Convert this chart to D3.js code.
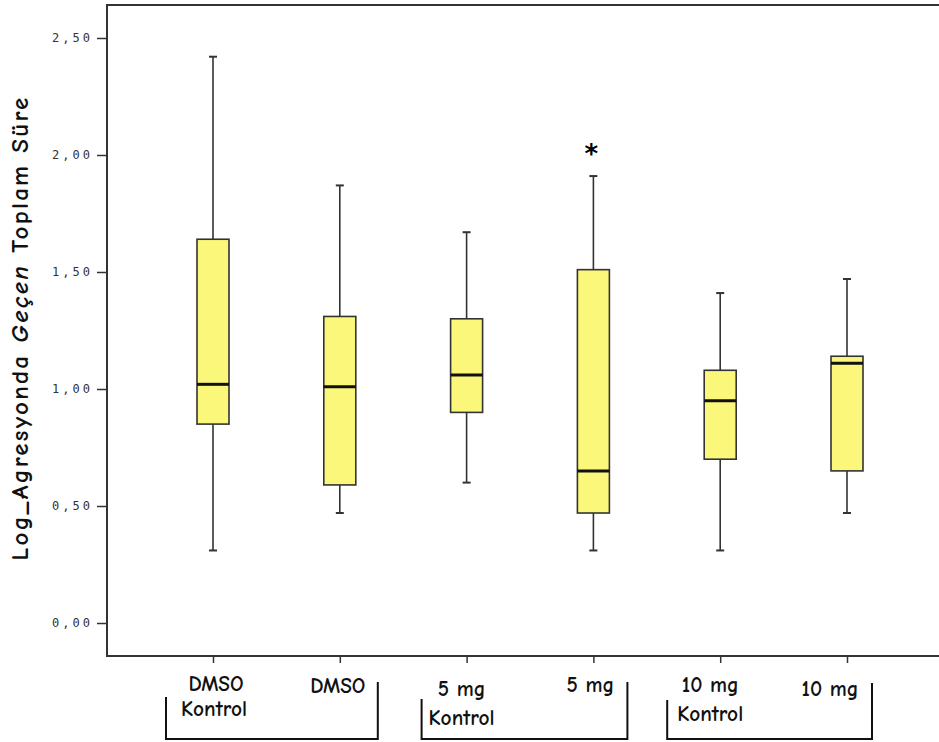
<!DOCTYPE html>
<html><head><meta charset="utf-8">
<script src="https://cdn.jsdelivr.net/npm/d3@7"></script>
<style>
body{margin:0;background:#fff;}
svg{display:block;}
</style></head>
<body><svg id="chart" width="939" height="742"></svg>
<script>
// ---- data ----
const categories = ["DMSO Kontrol","DMSO","5 mg Kontrol","5 mg","10 mg Kontrol","10 mg"];
const labelLines = [["DMSO","Kontrol"],["DMSO"],["5 mg","Kontrol"],["5 mg"],["10 mg","Kontrol"],["10 mg"]];
const whiskerLow  = [0.31, 0.47, 0.60, 0.31, 0.31, 0.47];
const q1          = [0.85, 0.59, 0.90, 0.47, 0.70, 0.65];
const median      = [1.02, 1.01, 1.06, 0.65, 0.95, 1.11];
const q3          = [1.64, 1.31, 1.30, 1.51, 1.08, 1.14];
const whiskerHigh = [2.42, 1.87, 1.67, 1.91, 1.41, 1.47];
const outliers    = [[], [], [], [2.02], [], []];
const yTicks = [0, 0.5, 1.0, 1.5, 2.0, 2.5];
const yTitle = ["Log_Agresyonda ", "Geçen", " Toplam Süre"];
const groups = [[0,1],[2,3],[4,5]];

// ---- layout ----
const pLeft = 107, pTop = 5, pRight = 945, pBottom = 656;
const svg = d3.select("#chart");
const y = d3.scaleLinear().domain([-0.141, 2.641]).range([pBottom, pTop]);
const x = d3.scalePoint().domain(categories).range([213, 847]);
const boxW = 32, capW = 8;
const fill = "#fbf77a", stroke = "#333";
const comic = "'Comic Sans MS','Comic Neue','Open Sans','DejaVu Sans',sans-serif";

// frame
svg.append("rect").attr("x", pLeft).attr("y", pTop).attr("width", pRight - pLeft).attr("height", pBottom - pTop)
  .attr("fill", "none").attr("stroke", "#333").attr("stroke-width", 2);

// y axis
const yAxis = d3.axisLeft(y).tickValues(yTicks).tickSize(10).tickPadding(4)
  .tickFormat(d => d3.format(".2f")(d).replace(".", ","));
const yg = svg.append("g").attr("transform", `translate(${pLeft},0)`).call(yAxis);
yg.select(".domain").remove();
yg.selectAll(".tick line").attr("stroke", "#333").attr("stroke-width", 1.5);
yg.selectAll(".tick text").attr("font-family", "'DejaVu Sans Mono',monospace").attr("font-size", 12)
  .attr("letter-spacing", "3px").attr("fill", "#333");

// x axis
const xAxis = d3.axisBottom(x).tickSize(7).tickFormat("");
const xg = svg.append("g").attr("transform", `translate(0,${pBottom})`).call(xAxis);
xg.select(".domain").remove();
xg.selectAll(".tick line").attr("stroke", "#333").attr("stroke-width", 1.5);

// boxes
const data = categories.map((c, i) => ({c, i, lo: whiskerLow[i], q1: q1[i], med: median[i], q3: q3[i], hi: whiskerHigh[i], out: outliers[i]}));
const g = svg.append("g").selectAll("g").data(data).join("g");
g.append("line").attr("x1", d => x(d.c)).attr("x2", d => x(d.c))
  .attr("y1", d => y(d.hi)).attr("y2", d => y(d.q3)).attr("stroke", stroke).attr("stroke-width", 1.6);
g.append("line").attr("x1", d => x(d.c)).attr("x2", d => x(d.c))
  .attr("y1", d => y(d.q1)).attr("y2", d => y(d.lo)).attr("stroke", stroke).attr("stroke-width", 1.6);
g.append("line").attr("x1", d => x(d.c) - capW/2).attr("x2", d => x(d.c) + capW/2)
  .attr("y1", d => y(d.hi)).attr("y2", d => y(d.hi)).attr("stroke", stroke).attr("stroke-width", 2);
g.append("line").attr("x1", d => x(d.c) - capW/2).attr("x2", d => x(d.c) + capW/2)
  .attr("y1", d => y(d.lo)).attr("y2", d => y(d.lo)).attr("stroke", stroke).attr("stroke-width", 2);
g.append("rect").attr("x", d => x(d.c) - boxW/2).attr("width", boxW)
  .attr("y", d => y(d.q3)).attr("height", d => y(d.q1) - y(d.q3))
  .attr("fill", fill).attr("stroke", stroke).attr("stroke-width", 1.6);
g.append("line").attr("x1", d => x(d.c) - boxW/2).attr("x2", d => x(d.c) + boxW/2)
  .attr("y1", d => y(d.med)).attr("y2", d => y(d.med)).attr("stroke", "#111").attr("stroke-width", 3);
g.selectAll("text.out").data(d => d.out.map(v => ({c: d.c, v}))).join("text").attr("class", "out")
  .attr("x", d => x(d.c) - 2).attr("y", d => y(d.v) + 13).attr("text-anchor", "middle")
  .attr("font-family", "'DejaVu Sans',sans-serif").attr("font-weight", "bold").attr("font-size", 26).text("*");

// category labels (size fitted so "Kontrol" is ~65px wide, like the reference)
const probe = svg.append("text").attr("font-family", comic).attr("font-weight", "bold").attr("font-size", 20).text("Kontrol");
const labelSize = Math.min(26, 20 * 66 / probe.node().getComputedTextLength());
probe.remove();
const labelOffsets = [[3,1],[-2],[-5,-5],[-3],[-10,-10],[-17]];
const labelBase = [[691,716],[693],[696,725],[692],[692,721],[696]];
data.forEach((d, i) => {
  labelLines[i].forEach((t, k) => {
    svg.append("text").attr("x", x(d.c) + labelOffsets[i][k]).attr("y", labelBase[i][k])
      .attr("text-anchor", "middle").attr("font-family", comic).attr("font-weight", "bold")
      .attr("font-size", labelSize).attr("fill", "#111").text(t);
  });
});

// group brackets
const bracketTopL = [697, 699, 700], bracketTopR = [682, 682, 683];
const bracketOffL = [-47, -45, -53], bracketOffR = [38, 34, 25];
groups.forEach((gr, j) => {
  const xl = x(categories[gr[0]]) + bracketOffL[j], xr = x(categories[gr[1]]) + bracketOffR[j];
  svg.append("path").attr("d", `M${xl},${bracketTopL[j]}V739H${xr}V${bracketTopR[j]}`)
    .attr("fill", "none").attr("stroke", "#111").attr("stroke-width", 2);
});

// y title (letter-spaced to ~465px length)
const tt = svg.append("text").attr("transform", "translate(28,328) rotate(-90)")
  .attr("text-anchor", "middle").attr("font-family", comic).attr("font-weight", "bold")
  .attr("font-size", 25).attr("fill", "#111");
yTitle.forEach((t, k) => tt.append("tspan").attr("font-style", k === 1 ? "italic" : "normal").text(t));
const tl = tt.node().getComputedTextLength();
const nChars = yTitle.join("").length;
tt.attr("letter-spacing", Math.max(0, (465 - tl) / nChars) + "px");
</script></body></html>
